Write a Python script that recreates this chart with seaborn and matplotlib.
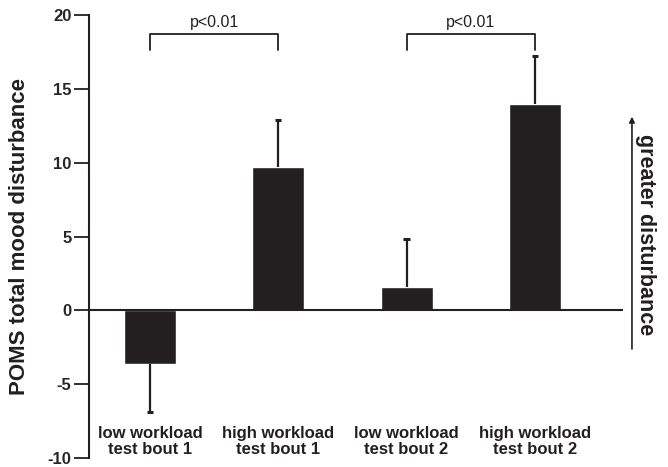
import matplotlib
matplotlib.use("Agg")
from matplotlib import pyplot as plt
import seaborn as sns

# data
conditions = ["low workload\ntest bout 1", "high workload\ntest bout 1",
              "low workload\ntest bout 2", "high workload\ntest bout 2"]
means = [-3.6, 9.7, 1.6, 14.0]
sds = [3.3, 3.2, 3.2, 3.2]
yticks = [-10, -5, 0, 5, 10, 15, 20]
# significance brackets: (left bar, right bar, label)
brackets = [(0, 1, "p<0.01"), (2, 3, "p<0.01")]

sns.set_style("ticks")
plt.rcParams['font.family'] = ['Liberation Sans', 'DejaVu Sans']

fig = plt.figure(figsize=(6.68, 4.67), dpi=100)
ax = fig.add_axes([0.1332, 0.019, 0.7994, 0.949])

dark = "#231f20"
pos = list(range(len(means)))
sns.barplot(x=pos, y=means, color=dark, width=0.405,
            saturation=1, ax=ax, native_scale=True)

# one-sided error bars (away from zero)
ends = [m - s if m < 0 else m + s for m, s in zip(means, sds)]
ax.vlines(pos, means, ends, color=dark, lw=1.6)
ax.hlines(ends, [p - 0.025 for p in pos], [p + 0.025 for p in pos],
          color=dark, lw=2.2)

ax.set_xlim(-0.475, 3.687)
ax.set_ylim(-10, 20)
ax.set_yticks(yticks)
ax.set_yticklabels([str(t) for t in yticks], fontsize=12, fontweight="bold")
ax.set_xticks([])
ax.tick_params(axis="y", length=10.5, width=1.3, pad=2, color=dark)

for side in ["top", "right", "bottom"]:
    ax.spines[side].set_visible(False)
ax.spines["left"].set_linewidth(1.5)
ax.spines["left"].set_color(dark)
ax.axhline(0, color=dark, lw=1.5)

ax.set_ylabel("POMS total mood disturbance", fontsize=16, fontweight="bold",
              color=dark)
ax.yaxis.set_label_coords(-0.11, 0.5)

# category labels inside the plot area
for i, lab in enumerate(conditions):
    ax.text(i, -8.85, lab, ha="center", va="center", fontsize=12,
            fontweight="bold", linespacing=1.1, color=dark)

# brackets
for a, b, lab in brackets:
    ax.plot([a, a, b, b], [17.6, 18.7, 18.7, 17.6], color=dark, lw=1.3,
            clip_on=False)
    ax.text((a + b) / 2, 18.95, lab, ha="center", va="bottom", fontsize=11.5,
            color=dark, clip_on=False)

# right-hand arrow
ax.annotate("", xy=(3.757, 13.3), xytext=(3.757, -2.8),
            arrowprops=dict(arrowstyle="-|>", lw=1.2, color=dark,
                            mutation_scale=8), annotation_clip=False)
ax.text(3.86, 5.1, "greater disturbance", rotation=-90, ha="center",
        va="center", fontsize=15.5, fontweight="bold", color=dark,
        clip_on=False)

fig.savefig("out.png", dpi=100)
